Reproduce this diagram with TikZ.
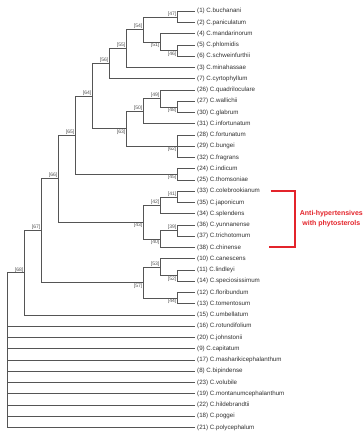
\documentclass[tikz,border=0pt]{standalone}
\usepackage{fontspec}
\setmainfont{Liberation Sans}
\usetikzlibrary{positioning}
\definecolor{Branch}{HTML}{555555}
\definecolor{LeafInk}{HTML}{303030}
\definecolor{Support}{HTML}{505050}
\definecolor{Mark}{HTML}{E3242B}
\tikzset{
  br/.style={draw=Branch,line width=.7pt},
  leaf/.style={anchor=west,inner xsep=2pt,inner ysep=0pt,text=LeafInk,
    font=\fontsize{6.2}{7}\selectfont},
  boot/.style={inner sep=.4pt,text=Support,font=\fontsize{5}{6}\selectfont},
  bracket/.style={draw=Mark,line width=1.8pt},
  markText/.style={anchor=west,text=Mark,align=center,
    font=\bfseries\fontsize{7}{10.5}\selectfont}
}

\begin{document}
\begin{tikzpicture}[x=1pt,y=-1pt]
  \useasboundingbox (0,0) rectangle (363,433);
  % taxa, top to bottom
  \foreach \rw/\no/\nm in {1/1/buchanani, 2/2/paniculatum, 3/4/mandarinorum,
      4/5/phlomidis, 5/6/schweinfurthii, 6/3/minahassae, 7/7/cyrtophyllum,
      8/26/quadriloculare, 9/27/wallichii, 10/30/glabrum, 11/31/infortunatum,
      12/28/fortunatum, 13/29/bungei, 14/32/fragrans, 15/24/indicum,
      16/25/thomsoniae, 17/33/colebrookianum, 18/35/japonicum, 19/34/splendens,
      20/36/yunnanense, 21/37/trichotomum, 22/38/chinense, 23/10/canescens,
      24/11/lindleyi, 25/14/speciosissimum, 26/12/floribundum, 27/13/tomentosum,
      28/15/umbellatum, 29/16/rotundifolium, 30/20/johnstonii, 31/9/capitatum,
      32/17/masharikicephalanthum, 33/8/bipindense, 34/23/volubile,
      35/19/montanumcephalanthum, 36/22/hildebrandtii, 37/18/poggei,
      38/21/polycephalum}
    \node[leaf] (s\no) at (195,{11.25*\rw}) {(\no) C.\nm};
  % internal nodes: name/level/y
  \foreach \n/\k/\y in {47/10/16.875, 46/10/50.625, 51/9/42.19, 54/8/29.53,
      55/7/48.52, 56/6/63.63, 48/10/106.875, 49/9/98.44, 50/8/111.09,
      62/10/146.25, 63/7/128.67, 64/5/96.15, 45/10/174.375, 65/4/135.26,
      41/10/196.875, 42/9/205.31, 39/10/230.625, 40/9/239.06, 43/8/222.19,
      66/3/178.72, 52/10/275.625, 53/9/267.19, 44/10/298.125, 57/8/282.66,
      67/2/230.69, 68/1/272.84}
    \coordinate (n\n) at ({7.3+17*\k},\y);
  \coordinate (root) at (7.3,272.84);
  % support values
  \foreach \n in {47,54,55,56,64,49,50,65,41,42,39,66,53,67,68}
    \node[boot,above left=.2pt and .5pt of n\n] (b\n) {[\n]};
  \foreach \n in {51,46,48,62,63,45,40,43,52,44,57}
    \node[boot,below left=.2pt and .5pt of n\n] (b\n) {[\n]};
  % branches
  \foreach \p/\c in {n47/s1.west, n47/s2.west, n46/s5.west, n46/s6.west,
      n51/s4.west, n51/n46, n54/n47, n54/n51, n55/n54, n55/s3.west,
      n56/n55, n56/s7.west, n48/s27.west, n48/s30.west, n49/s26.west,
      n49/n48, n50/n49, n50/s31.west, n62/s28.west, n62/s29.west,
      n62/s32.west, n63/n50, n63/n62, n64/n56, n64/n63, n45/s24.west,
      n45/s25.west, n65/n64, n65/n45, n41/s33.west, n41/s35.west,
      n42/n41, n42/s34.west, n39/s36.west, n39/s37.west, n40/n39,
      n40/s38.west, n43/n42, n43/n40, n66/n65, n66/n43, n52/s11.west,
      n52/s14.west, n53/s10.west, n53/n52, n44/s12.west, n44/s13.west,
      n57/n53, n57/n44, n67/n66, n67/n57, n68/n67, n68/s15.west,
      root/n68, root/s16.west, root/s20.west, root/s9.west, root/s17.west,
      root/s8.west, root/s23.west, root/s19.west, root/s22.west,
      root/s18.west, root/s21.west}
    \draw[br] (\p) |- (\c);
  % highlighted group
  \coordinate (brtop) at (270.5,190.6);
  \coordinate (brbot) at (269.3,247.3);
  \draw[bracket] (brtop) -- ++(24.5,0) |- (brbot);
  \node[markText] (mark) at (296.3,218.9) {Anti-hypertensives\\with phytosterols};
\end{tikzpicture}
\end{document}
